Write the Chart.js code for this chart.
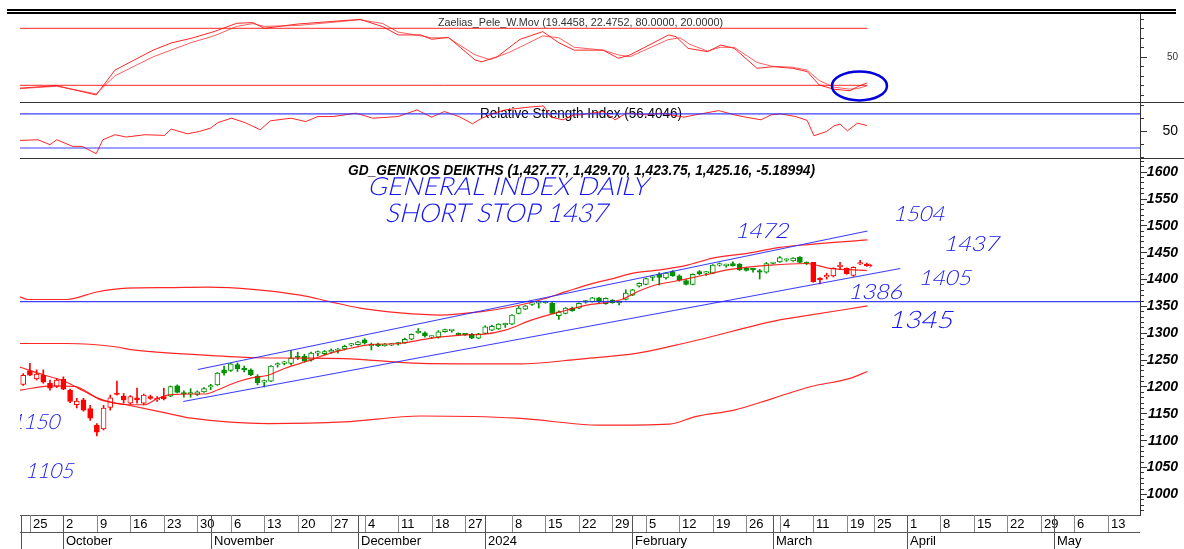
<!DOCTYPE html>
<html>
<head>
<meta charset="utf-8">
<title>GD General Index daily</title>
<script src="https://cdn.jsdelivr.net/npm/chart.js@4.4.1/dist/chart.umd.min.js"></script>
<style>
  html, body { margin: 0; padding: 0; background: #fff; }
  body { width: 1184px; height: 549px; position: relative; overflow: hidden; }
  canvas { position: absolute; left: 0; }
</style>
</head>
<body>
<canvas id="osc-chart" width="1184" height="102" style="top:0px"></canvas>
<canvas id="rsi-chart" width="1184" height="56" style="top:102px"></canvas>
<canvas id="price-chart" width="1184" height="391" style="top:158px"></canvas>
<script>
// x axis = trading day index, 0 = Mon 25 Sep 2023 (weekends + holidays skipped)
const X_MIN = -1.48;
const X_MAX = 165.8;
const FIRST_DAY = -1;          // first candle (Fri 22 Sep)

// daily candles, FIRST_DAY .. 125 (22 Mar 2024)
const openP = [
  1204,1229,1214,1221,1206,1200,1214,1193,1166,1175,
  1159,1128,1121,1161,1187,1182,1169,1179,1169,1181,
  1175,1181,1182,1201,1188,1186,1185,1190,1199,1203,
  1231,1230,1241,1232,1231,1219,1208,1210,1240,1243,
  1243,1256,1256,1249,1262,1261,1264,1267,1270,1277,
  1278,1287,1276,1279,1276,1277,1279,1281,1288,1300,
  1300,1292,1292,1302,1304,1299,1298,1297,1290,1299,
  1305,1307,1315,1316,1336,1344,1353,1355,1356,1355,
  1332,1336,1346,1346,1357,1358,1365,1354,1361,1356,
  1362,1370,1387,1390,1403,1409,1402,1414,1406,1397,
  1390,1414,1411,1411,1426,1425,1429,1428,1420,1418,
  1414,1413,1429,1432,1435,1434,1441,1430,1431,1400,
  1404,1406,1423,1420,1407,1428,1427.77
];
const highP = [
  1224,1243,1231,1231,1212,1215,1218,1195,1178,1178,
  1165,1131,1165,1184,1210,1187,1183,1197,1186,1184,
  1181,1197,1201,1203,1192,1196,1192,1198,1204,1226,
  1238,1243,1244,1238,1233,1222,1212,1239,1244,1247,
  1267,1264,1260,1264,1266,1267,1270,1271,1277,1280,
  1284,1289,1281,1281,1280,1280,1282,1290,1298,1308,
  1302,1294,1304,1307,1306,1300,1298,1299,1299,1313,
  1314,1317,1318,1334,1349,1351,1356,1358,1359,1357,
  1341,1347,1348,1356,1360,1366,1366,1365,1362,1358,
  1380,1381,1393,1402,1407,1412,1412,1416,1408,1399,
  1410,1416,1414,1427,1430,1428,1432,1429,1421,1420,
  1418,1431,1431,1442,1438,1440,1442,1432,1431,1403,
  1411,1421,1431,1421,1423,1435,1429.70
];
const lowP = [
  1202,1220,1212,1206,1193,1198,1194,1170,1160,1154,
  1137,1108,1119,1156,1184,1169,1167,1169,1166,1176,
  1172,1175,1181,1188,1180,1180,1183,1189,1194,1202,
  1221,1228,1228,1227,1220,1203,1199,1209,1236,1240,
  1240,1250,1245,1247,1257,1259,1262,1262,1268,1275,
  1277,1279,1268,1274,1275,1276,1277,1280,1287,1299,
  1292,1290,1290,1301,1301,1296,1295,1289,1289,1298,
  1304,1306,1310,1315,1335,1343,1351,1346,1355,1336,
  1325,1335,1340,1345,1355,1357,1355,1353,1355,1352,
  1361,1369,1385,1389,1397,1389,1400,1405,1396,1389,
  1389,1408,1407,1410,1424,1422,1424,1416,1415,1413,
  1400,1411,1428,1431,1433,1433,1430,1427,1394,1391,
  1400,1404,1418,1409,1405,1427,1423.75
];
const closeP = [
  1221,1221,1223,1208,1197,1212,1195,1172,1173,1156,
  1141,1115,1160,1179,1185,1175,1181,1175,1184,1178,
  1178,1177,1200,1189,1186,1188,1190,1196,1201,1225,
  1225,1242,1233,1231,1222,1207,1210,1238,1242,1245,
  1253,1254,1247,1262,1264,1265,1268,1268,1275,1278,
  1283,1281,1278,1276,1277,1279,1281,1288,1297,1302,
  1294,1292,1302,1306,1304,1296,1296,1290,1298,1311,
  1312,1316,1316,1333,1346,1350,1354,1356,1357,1336,
  1339,1346,1341,1355,1358,1365,1358,1364,1356,1356,
  1374,1380,1392,1401,1405,1403,1411,1406,1398,1390,
  1409,1410,1412,1426,1429,1426,1425,1417,1416,1417,
  1413,1429,1430,1440,1436,1439,1431,1429,1395,1399,
  1405,1420,1424,1410,1422,1430.35,1425.16
];
// candles are green between these days, red outside
const GREEN_FROM = 21, GREEN_TO = 116;

// envelope / moving average lines (day, value)
const upperX = [-1.5,-0.3,5.5,10,14.5,20.5,26.5,33.3,40.4,44.8,49.3,55.3,61.3,67.2,72.2,76.2,80.2,84.1,87.1,90.1,94.1,98.2,102,107.1,112,115,125.1];
const upperY = [1367,1362,1362,1376,1383,1384,1385,1381,1370,1358,1346,1337,1333,1339,1349,1361,1377,1392,1401,1411,1417,1426,1439,1448,1459,1463,1473];
const midX = [-1.5,5.5,12.7,15.4,25.4,32.9,38.1,46.9,58.4,72.8,82.2,90.8,96.5,99.9,112,115,125.1];
const midY = [1280,1280,1274,1268,1259,1254,1253,1252,1243,1242,1251,1262,1277,1287,1324,1330,1350];
const lowerX = [-1.5,3.2,6.7,10.6,14.4,20.6,24.1,35.6,46.9,58.4,72.8,85.2,95.5,99.4,105.2,111,116.7,122.5,125.1];
const lowerY = [1193,1201,1200,1175,1166,1150,1141,1131,1134,1145,1141,1128,1130,1144,1156,1178,1200,1215,1228];
const maX = [-1.5,2.2,4.7,7.2,9.7,11.7,14.7,17.1,19.1,21.1,24.4,26.2,28.1,30.6,33.1,35.6,38.1,40.6,42.1,44.1,47.1,50.8,55,60,65,67.5,71,75,79.2,83.4,88.4,90.8,93.4,95.9,98.3,100.9,104.6,110.6,116,119.5,125];
const maY = [1236,1221,1212,1197,1181,1172,1166,1166,1178,1185,1186,1186,1194,1207,1216,1221,1234,1244,1250,1259,1269,1278,1280,1290,1296,1297,1305,1324,1339,1352,1362,1377,1389,1395,1401,1408,1418,1426,1429,1420,1416];

// trend channel + support
const chanUpX = [25.1, 125.1], chanUpY = [1231.7, 1489.6];
const chanLoX = [22.9, 130], chanLoY = [1172, 1419.7];
const SUPPORT = 1358;

// Zaelias_Pele_W.Mov oscillator
const fastX = [-1.5,4,9.9,12.7,18.4,21.2,24.1,27.5,30.9,33.3,35,40,44.7,49.3,52.7,55,58.4,60,62.5,66.5,67.5,69.8,73.2,76.6,79,81.3,85.6,87.9,89.6,95.4,96.5,98.3,101.2,103.2,105.2,108.6,111,113.9,116.1,117.9,120.1,122.5,123.6,125];
const fastY = [17,19.6,9.8,36,57,64.8,69.5,76.5,85.3,86,80,84.5,87,89.4,81.7,73,73,68.4,70.5,46.6,44.8,50.1,68.4,76.5,64.8,57,57,48.4,51.9,73,71.2,58.9,55.4,62.4,58.9,37.9,39.6,37.9,34.4,20.3,15.8,14.3,18.5,22.5];
const slowX = [-1.5,4,9.9,12.7,18.4,24.1,27.5,30.9,33.3,35,40,44.7,49.3,52.7,55,58.4,60,62.5,66.5,68.7,71.7,76.6,79,81.3,85.6,87.9,89.6,95.3,97.1,98.6,101.2,103.1,105.2,108.6,110.9,113.9,116.1,117.9,120.1,122.4,123.6,125];
const slowY = [16.5,19,11,30,50,65,72,82,85,82,83,86,89,85,76,72,70,70,52,47,55,72,70,60,57,52,50,68,70,63,56,60,60,44,40,39,36,25,18,16,16.5,19.4];
const OSC_LEVELS = [80, 20];

// RSI
const rsiX = [-1.5,1.2,3,4,6.4,7.8,9.9,10.9,12.7,14.4,17.2,20.1,21.1,23.5,25.3,27,28.1,30.1,32.1,34.4,35.9,39,41.2,43,45.3,48.7,51.2,55,57.8,60,61.9,64.1,66.1,67.5,69.3,71,74.4,76.7,77.8,79.6,81.3,82.2,85.6,87.4,89.1,92,94.3,97.7,99.4,102.9,105.2,106.9,109.2,110.7,112.1,114.4,116.1,117.1,119,120.1,121,122.1,123.6,125];
const rsiY = [38.9,39.7,33.9,39.7,31.9,31.9,23.4,39.7,45.6,42.9,45.6,44.8,52.2,46.7,49.4,53.4,59.9,65,59.9,51.4,61.9,65,61,66.9,66.9,70.9,65,66.9,74.7,66.2,72.8,66.9,58.4,65,70.9,74.7,77.9,79.4,66.2,63.1,68.9,68.9,72.8,63.1,70.9,68.9,70.9,66.2,68.9,73.9,68.9,66.2,63.1,68.9,70,66.9,62.3,44.4,49.4,56,58,50.2,59.2,56.4];
const RSI_LEVELS = [70, 30];

// value axes: tick marks and labels
const oscTicks = [10, 20, 30, 40, 50, 60, 70, 80, 90];
const oscLabels = [50];
const rsiTicks = [20, 35, 50, 65, 80];
const rsiLabels = [50];
const mainTicks = [970,980,990,1000,1010,1020,1030,1040,1050,1060,1070,1080,1090,1100,1110,1120,1130,1140,1150,1160,1170,1180,1190,1200,1210,1220,1230,1240,1250,1260,1270,1280,1290,1300,1310,1320,1330,1340,1350,1360,1370,1380,1390,1400,1410,1420,1430,1440,1450,1460,1470,1480,1490,1500,1510,1520,1530,1540,1550,1560,1570,1580,1590,1600,1610,1620];
const mainLabels = [1000,1050,1100,1150,1200,1250,1300,1350,1400,1450,1500,1550,1600];

// date axis
const weekIdx = [0,5,10,15,20,25,30,35,40,45,50,55,60,65,72,77,82,87,92,97,102,107,112,117,122,126,131,136,141,146,151,156,161];
const weekLbl = ['25','2','9','16','23','30','6','13','20','27','4','11','18','27','8','15','22','29','5','12','19','26','4','11','19','25','1','8','15','22','29','6','13'];
const monthIdx = [5,27,49,68,90,111,131,153];
const monthLbl = ['October','November','December','2024','February','March','April','May'];

const MAIN_TITLE = 'GD_GENIKOS DEIKTHS (1,427.77, 1,429.70, 1,423.75, 1,425.16, -5.18994)';
const OSC_TITLE = 'Zaelias_Pele_W.Mov (19.4458, 22.4752, 80.0000, 20.0000)';
const RSI_TITLE = 'Relative Strength Index (56.4046)';

// hand written notes on the price panel
const notes = [
  {text: 'GENERAL INDEX DAILY', day: 50.4, value: 1556.6, size: 25, width: 280},
  {text: 'SHORT STOP 1437', day: 53.0, value: 1506.3, size: 26, width: 222},
  {text: '1472', day: 105.3, value: 1476.5, size: 21, width: 53},
  {text: '1504', day: 128.9, value: 1508, size: 21, width: 51},
  {text: '1437', day: 136.4, value: 1452.3, size: 21, width: 55},
  {text: '1405', day: 132.7, value: 1389, size: 21, width: 52},
  {text: '1386', day: 122.2, value: 1363, size: 21, width: 54},
  {text: '1345', day: 128.2, value: 1309, size: 24, width: 64},
  {text: '1150', day: -2.8, value: 1120.9, size: 21, width: 48},
  {text: '1105', day: -0.73, value: 1029.5, size: 21, width: 48}
];

const FONT = '"Liberation Sans", Arial, sans-serif';
const HAND = 'Lato, "Open Sans", sans-serif';
const RED = 'rgba(255,0,0,0.85)';
const BLUE = 'rgba(40,40,255,0.9)';
Chart.defaults.font.family = FONT;

function pts(xs, ys) { return xs.map((x, k) => ({x: x, y: ys[k]})); }
function flat(v, x0, x1) { return [{x: x0, y: v}, {x: x1, y: v}]; }
function lineSet(data, color, width, smooth) {
  return {type: 'line', data: data, borderColor: color, borderWidth: width || 1,
    pointRadius: 0, fill: false, cubicInterpolationMode: smooth ? 'monotone' : 'default', tension: 0};
}

function fitText(ctx, text, x, y, width, skew) {
  const w = ctx.measureText(text).width;
  ctx.save();
  ctx.translate(x, y);
  if (skew) ctx.transform(1, 0, -skew, 1, 0, 0);
  ctx.scale(width / w, 1);
  ctx.fillText(text, 0, 0);
  ctx.restore();
}

// tick marks right of the axis line + right aligned labels
function drawAxis(chart, ticks, labels, font, color) {
  const ys = chart.scales.y, ctx = chart.ctx;
  ctx.save();
  ctx.strokeStyle = '#333';
  ctx.lineWidth = 1;
  ticks.forEach(v => {
    const y = Math.round(ys.getPixelForValue(v)) + 0.5;
    const len = v % 50 === 0 ? 7 : 4;
    ctx.beginPath();
    ctx.moveTo(ys.left, y);
    ctx.lineTo(ys.left + len, y);
    ctx.stroke();
  });
  ctx.font = font;
  ctx.fillStyle = color;
  ctx.textAlign = 'right';
  ctx.textBaseline = 'middle';
  labels.forEach(v => ctx.fillText(String(v), 1178, ys.getPixelForValue(v) + 0.5));
  ctx.restore();
}

function separator(ctx) {
  ctx.save();
  ctx.strokeStyle = '#333';
  ctx.lineWidth = 1;
  ctx.beginPath();
  ctx.moveTo(20, 0.5);
  ctx.lineTo(1184, 0.5);
  ctx.stroke();
  ctx.restore();
}

function baseOptions(yMin, yMax, padTop, padBottom) {
  return {
    responsive: false,
    animation: false,
    events: [],
    layout: {padding: {left: 20, right: 0, top: padTop, bottom: padBottom}},
    plugins: {legend: {display: false}, tooltip: {enabled: false}},
    scales: {
      x: {type: 'linear', min: X_MIN, max: X_MAX, display: false, offset: false},
      y: {
        position: 'right', min: yMin, max: yMax,
        afterFit: s => { s.width = 44; },
        grid: {drawOnChartArea: false, drawTicks: false},
        border: {display: true, color: '#333', width: 1},
        ticks: {display: false}
      }
    }
  };
}

// ---------- oscillator panel ----------
const oscPlugin = {
  id: 'oscPanel',
  beforeDatasetsDraw(chart) {
    const ctx = chart.ctx;
    ctx.save();
    ctx.font = '11px ' + FONT;
    ctx.fillStyle = '#333';
    fitText(ctx, OSC_TITLE, 438, 26, 285);
    ctx.restore();
  },
  afterDraw(chart) {
    const ctx = chart.ctx;
    ctx.save();
    ctx.fillStyle = '#000';
    ctx.fillRect(7, 9, 1169, 2);
    ctx.fillRect(7, 12, 1169, 2);
    ctx.restore();
    drawAxis(chart, oscTicks, oscLabels, '10px ' + FONT, '#333');
    // blue circle round the last crossing
    const cx = chart.scales.x.getPixelForValue(123.9);
    const cy = chart.scales.y.getPixelForValue(19.3);
    ctx.save();
    ctx.strokeStyle = '#0000dd';
    ctx.lineWidth = 2.5;
    ctx.beginPath();
    ctx.ellipse(cx, cy, 27.5, 14.5, 0, 0, Math.PI * 2);
    ctx.stroke();
    ctx.restore();
  }
};
new Chart(document.getElementById('osc-chart').getContext('2d'), {
  type: 'line',
  data: {datasets: [
    lineSet(flat(OSC_LEVELS[0], -1.5, 125.1), RED, 1),
    lineSet(flat(OSC_LEVELS[1], -1.5, 125.1), RED, 1),
    lineSet(pts(slowX, slowY), 'rgba(255,40,40,0.75)', 1),
    lineSet(pts(fastX, fastY), RED, 1)
  ]},
  options: baseOptions(2.42, 95.05, 14, 0),
  plugins: [oscPlugin]
});

// ---------- RSI panel ----------
const rsiPlugin = {
  id: 'rsiPanel',
  beforeDatasetsDraw(chart) {
    const ctx = chart.ctx;
    ctx.save();
    ctx.font = '14px ' + FONT;
    ctx.fillStyle = '#000';
    fitText(ctx, RSI_TITLE, 480, 15.5, 202);
    ctx.restore();
  },
  afterDraw(chart) {
    separator(chart.ctx);
    drawAxis(chart, rsiTicks, rsiLabels, '14px ' + FONT, '#000');
  }
};
new Chart(document.getElementById('rsi-chart').getContext('2d'), {
  type: 'line',
  data: {datasets: [
    lineSet(flat(RSI_LEVELS[0], X_MIN, X_MAX), BLUE, 1.2),
    lineSet(flat(RSI_LEVELS[1], X_MIN, X_MAX), BLUE, 1.2),
    lineSet(pts(rsiX, rsiY), RED, 1)
  ]},
  options: baseOptions(18.3, 82.8, 1, 0),
  plugins: [rsiPlugin]
});

// ---------- price panel ----------
const days = openP.map((_, k) => k + FIRST_DAY);
const candleColor = k => (days[k] >= GREEN_FROM && days[k] <= GREEN_TO) ? '#009000' : '#ff0000';

const pricePlugin = {
  id: 'pricePanel',
  beforeDatasetsDraw(chart) {
    const ctx = chart.ctx;
    ctx.save();
    ctx.font = 'italic bold 14px ' + FONT;
    ctx.fillStyle = '#000';
    fitText(ctx, MAIN_TITLE, 348, chart.chartArea.top + 16, 467);
    ctx.restore();
  },
  afterDraw(chart) {
    const ctx = chart.ctx, xs = chart.scales.x, ys = chart.scales.y, area = chart.chartArea;
    separator(ctx);
    drawAxis(chart, mainTicks, mainLabels, 'italic bold 14px ' + FONT, '#000');

    // last price arrow
    const lx = xs.getPixelForValue(days[days.length - 1]);
    const ly = ys.getPixelForValue(closeP[closeP.length - 1]);
    ctx.save();
    ctx.strokeStyle = '#ff0000';
    ctx.lineWidth = 1;
    ctx.beginPath();
    ctx.moveTo(lx, ly); ctx.lineTo(lx + 5, ly);
    ctx.moveTo(lx + 3, ly - 2); ctx.lineTo(lx + 5, ly); ctx.lineTo(lx + 3, ly + 2);
    ctx.stroke();
    ctx.restore();

    // hand written notes
    ctx.save();
    ctx.beginPath();
    ctx.rect(area.left, area.top, area.right - area.left, area.bottom - area.top);
    ctx.clip();
    ctx.fillStyle = '#1515f0';
    notes.forEach(n => {
      ctx.font = '300 ' + n.size + 'px ' + HAND;
      fitText(ctx, n.text, xs.getPixelForValue(n.day), ys.getPixelForValue(n.value), n.width, 0.25);
    });
    ctx.restore();

    // date axis: week row + month row
    const top = area.bottom, mid = top + 17, bot = top + 34;
    const seg = (x0, y0, x1, y1) => { ctx.beginPath(); ctx.moveTo(x0, y0); ctx.lineTo(x1, y1); ctx.stroke(); };
    ctx.save();
    ctx.lineWidth = 1;
    ctx.strokeStyle = '#555';
    seg(area.left, top + 0.5, area.right, top + 0.5);
    seg(area.left, mid + 0.5, area.right, mid + 0.5);
    seg(area.left + 1.5, top, area.left + 1.5, bot);
    ctx.font = '13px ' + FONT;
    ctx.fillStyle = '#000';
    ctx.textBaseline = 'middle';
    weekIdx.forEach((d, k) => {
      const x = Math.round(xs.getPixelForValue(d)) + 0.5;
      ctx.strokeStyle = '#888';
      seg(x, top, x, mid);
      ctx.fillText(weekLbl[k], x + 2.5, top + 9.5);
    });
    monthIdx.forEach((d, k) => {
      const x = Math.round(xs.getPixelForValue(d)) + 0.5;
      ctx.strokeStyle = '#555';
      seg(x, top, x, bot);
      ctx.fillText(monthLbl[k], x + 2.5, mid + 9.5);
    });
    ctx.restore();
  }
};

new Chart(document.getElementById('price-chart').getContext('2d'), {
  type: 'line',
  data: {datasets: [
    lineSet(flat(SUPPORT, X_MIN, X_MAX), BLUE, 1.2),
    lineSet(pts(chanUpX, chanUpY), BLUE, 1.2),
    lineSet(pts(chanLoX, chanLoY), BLUE, 1.2),
    lineSet(pts(upperX, upperY), RED, 1.2, true),
    lineSet(pts(midX, midY), RED, 1.2, true),
    lineSet(pts(lowerX, lowerY), RED, 1.2, true),
    lineSet(pts(maX, maY), RED, 1.2, true),
    {
      type: 'bar', order: 2, grouped: false,
      data: days.map((d, k) => ({x: d, y: [lowP[k], highP[k]]})),
      barThickness: 1, minBarLength: 1, borderWidth: 0,
      backgroundColor: c => candleColor(c.dataIndex)
    },
    {
      type: 'bar', order: 1, grouped: false,
      data: days.map((d, k) => ({x: d, y: [openP[k], closeP[k]]})),
      barThickness: 5, minBarLength: 1.5, borderWidth: 1, borderSkipped: false,
      borderColor: c => candleColor(c.dataIndex),
      backgroundColor: c => closeP[c.dataIndex] >= openP[c.dataIndex] ? '#ffffff' : candleColor(c.dataIndex)
    }
  ]},
  options: baseOptions(960.7, 1623.6, 1, 34),
  plugins: [pricePlugin]
});
</script>
</body>
</html>
